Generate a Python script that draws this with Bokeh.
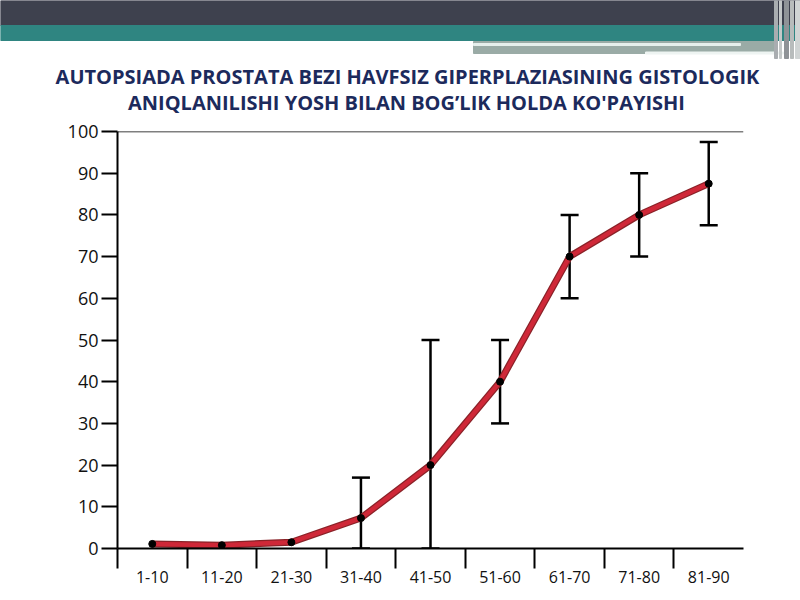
from bokeh.plotting import figure
from bokeh.layouts import column, row
from bokeh.models import (ColumnDataSource, Range1d, FixedTicker, Span,
                          Whisker, TeeHead)
from bokeh.core.properties import value
from bokeh.embed import file_html
from bokeh.resources import INLINE
import numpy as np

# data
age_groups = ["1-10", "11-20", "21-30", "31-40", "41-50",
              "51-60", "61-70", "71-80", "81-90"]
percent = [1.1, 0.8, 1.5, 7.3, 20, 40, 70, 80, 87.5]
err_low = [None, None, None, 0, 0, 30, 60, 70, 77.5]
err_high = [None, None, None, 17, 50, 50, 80, 90, 97.5]
y_ticks = [0, 10, 20, 30, 40, 50, 60, 70, 80, 90, 100]

title_lines = ["AUTOPSIADA PROSTATA BEZI HAVFSIZ GIPERPLAZIASINING GISTOLOGIK",
               "ANIQLANILISHI YOSH BILAN BOG\u2019LIK HOLDA KO'PAYISHI"]

W = 800
HEAD_H = 118

# ---- slide header with the title ----
head = figure(width=W, height=HEAD_H, x_range=Range1d(0, W), y_range=Range1d(HEAD_H, 0),
              toolbar_location=None, tools="", output_backend="svg",
              x_axis_location=None, y_axis_location=None, min_border=0)
head.grid.visible = False
head.outline_line_color = None
head.background_fill_color = "white"

head.quad(left=0, right=W, top=0, bottom=25, color="#3e414e")
head.quad(left=0, right=W, top=25, bottom=40, color="#2f8581")
head.quad(left=473, right=775, top=41, bottom=53, color="#9aaba6")
head.quad(left=473, right=740, top=43, bottom=45, color="#e6efec")
head.quad(left=645, right=783, top=51.5, bottom=53.5, color="#eef4f2")
for x0, x1, c in [(774, 777, "#a9adb0"), (779, 781, "#c4c8c8"),
                  (784, 788, "#8f9397"), (790, 793, "#b8bcbc"), (795, 800, "#d0d4d4")]:
    head.quad(left=x0, right=x1, top=0, bottom=58, color=c)

head.text(x=[407, 406], y=[76, 102], text=title_lines,
          text_font=value("Open Sans"), text_font_style="bold",
          text_font_size="20px", text_color="#1c2a5c",
          text_align="center", text_baseline="middle")

# ---- chart ----
n = len(age_groups)
xpos = np.arange(n) + 0.5

p = figure(width=W, height=600 - HEAD_H, x_range=Range1d(0, n), y_range=Range1d(0, 100),
           toolbar_location=None, tools="", output_backend="svg",
           min_border_left=117, min_border_right=57,
           min_border_top=13, min_border_bottom=52)
p.grid.visible = False
p.outline_line_color = None
p.background_fill_color = "white"

p.add_layout(Span(location=100, dimension="width", line_color="black", line_width=1.5))

src = ColumnDataSource(dict(x=xpos, y=percent))
err_idx = [i for i in range(n) if err_low[i] is not None]
err_src = ColumnDataSource(dict(x=xpos[err_idx],
                                lo=[err_low[i] for i in err_idx],
                                hi=[err_high[i] for i in err_idx]))

p.line("x", "y", source=src, line_color="#8a2228", line_width=7)
p.line("x", "y", source=src, line_color="#cf2838", line_width=4.5)

p.add_layout(Whisker(base="x", lower="lo", upper="hi", source=err_src,
                     line_color="black", line_width=2.5,
                     upper_head=TeeHead(size=18, line_width=2.5, line_color="black"),
                     lower_head=TeeHead(size=18, line_width=2.5, line_color="black")))

p.scatter("x", "y", source=src, size=7, color="black")

# axes
p.yaxis.ticker = FixedTicker(ticks=y_ticks)
p.yaxis.axis_line_width = 2
p.yaxis.major_tick_line_width = 2
p.yaxis.major_tick_out = 16
p.yaxis.major_tick_in = 0
p.yaxis.minor_tick_line_color = None
p.yaxis.major_label_standoff = 3
p.yaxis.major_label_text_font = "Open Sans"
p.yaxis.major_label_text_font_size = "18px"
p.yaxis.major_label_text_color = "#111111"

p.xaxis.ticker = FixedTicker(ticks=list(xpos), minor_ticks=list(range(n)))
p.xaxis.major_label_overrides = {float(x): g for x, g in zip(xpos, age_groups)}
p.xaxis.axis_line_width = 2
p.xaxis.major_tick_line_color = None
p.xaxis.major_tick_out = 0
p.xaxis.major_tick_in = 0
p.xaxis.minor_tick_line_color = "black"
p.xaxis.minor_tick_line_width = 2
p.xaxis.minor_tick_out = 20
p.xaxis.minor_tick_in = 0
p.xaxis.major_label_standoff = 2
p.xaxis.major_label_text_font = "Open Sans"
p.xaxis.major_label_text_font_size = "16px"
p.xaxis.major_label_text_color = "#111111"

layout = column(row(head), row(p), spacing=0)
open("out.html", "w").write(file_html(layout, INLINE))
